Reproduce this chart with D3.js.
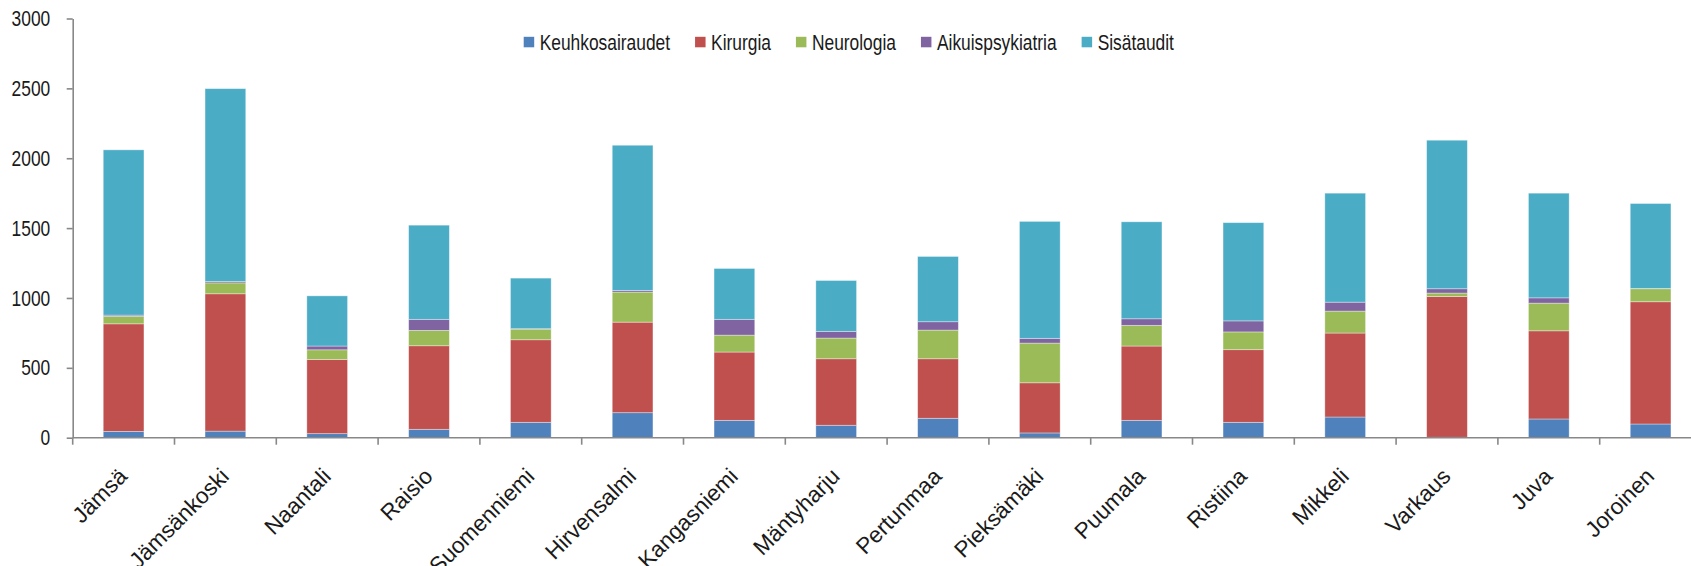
<!DOCTYPE html>
<html lang="fi">

<head>
    <meta charset="UTF-8">
    <style>
        body { margin: 0; background: #fff; }
        text { font-family: "Liberation Sans", Arial, sans-serif; fill: #1a1a1a; }
    </style>
</head>

<body>
    <script src="https://d3js.org/d3.v7.min.js"></script>
    <script>
        // kunnat ja sarjat
        var kunnat = ['Jämsä', 'Jämsänkoski', 'Naantali', 'Raisio', 'Suomenniemi', 'Hirvensalmi', 'Kangasniemi',
            'Mäntyharju', 'Pertunmaa', 'Pieksämäki', 'Puumala', 'Ristiina', 'Mikkeli', 'Varkaus', 'Juva', 'Joroinen']
        var sarjat = ['Keuhkosairaudet', 'Kirurgia', 'Neurologia', 'Aikuispsykiatria', 'Sisätaudit']
        var varit = ['#4f81bd', '#c0504d', '#9bbb59', '#8064a2', '#4bacc6']

        var keuhkosairaudet = [45, 47, 29, 60, 110, 179, 124, 89, 139, 34, 124, 110, 148, 3, 134, 98]
        var kirurgia = [770, 983, 531, 598, 591, 648, 489, 476, 426, 359, 532, 520, 601, 1008, 631, 875]
        var neurologia = [53, 78, 69, 110, 76, 215, 121, 148, 205, 284, 148, 127, 157, 24, 198, 93]
        var aikuispsykiatria = [9, 10, 27, 79, 3, 12, 113, 48, 60, 34, 47, 79, 64, 31, 38, 2]
        var sisataudit = [1183, 1380, 359, 674, 362, 1039, 364, 364, 467, 837, 694, 703, 780, 1063, 749, 608]

        var yTicks = [0, 500, 1000, 1500, 2000, 2500, 3000]

        var svgWidth = 1691, svgHeight = 566
        var narrow = 0.79   // kapea fontti

        var svg = d3.select('body').append('svg')
            .attr('width', svgWidth)
            .attr('height', svgHeight)

        var x = d3.scaleBand()
            .domain(kunnat)
            .range([72.7, 1701.5])
        var y = d3.scaleLinear()
            .domain([0, 3000])
            .range([437.7, 18.5])

        var rows = kunnat.map((k, i) => ({
            kunta: k,
            'Keuhkosairaudet': keuhkosairaudet[i],
            'Kirurgia': kirurgia[i],
            'Neurologia': neurologia[i],
            'Aikuispsykiatria': aikuispsykiatria[i],
            'Sisätaudit': sisataudit[i]
        }))
        var stacked = d3.stack().keys(sarjat)(rows)

        svg.selectAll('g.sarja')
            .data(stacked)
            .enter().append('g')
            .attr('class', 'sarja')
            .attr('fill', (d, i) => varit[i])
            .selectAll('rect')
            .data(d => d)
            .enter().append('rect')
            .attr('x', d => x(d.data.kunta) + x.bandwidth() * 0.3)
            .attr('width', x.bandwidth() * 0.4)
            .attr('y', d => y(d[1]))
            .attr('height', d => y(d[0]) - y(d[1]))
            .attr('stroke', 'rgba(255,255,255,0.45)')
            .attr('stroke-width', 0.8)

        // y-akseli
        var yAxis = svg.append('g')
            .attr('transform', 'translate(' + x.range()[0] + ',0)')
            .call(d3.axisLeft(y).tickValues(yTicks).tickFormat(d3.format('d')).tickSize(6).tickSizeOuter(0))
        yAxis.selectAll('path, line').attr('stroke', '#888').attr('stroke-width', 1.6)
        yAxis.selectAll('text')
            .attr('x', 0)
            .attr('transform', 'translate(-22.5,0) scale(' + narrow + ',1)')
            .style('font-size', '22px')
            .style('font-family', '"Liberation Sans", Arial, sans-serif')
            .attr('fill', '#1a1a1a')

        // x-akseli, jakoviivat kategorioiden rajoilla
        var xAxis = svg.append('g')
        xAxis.append('line')
            .attr('x1', x.range()[0]).attr('x2', x.range()[1])
            .attr('y1', y(0)).attr('y2', y(0))
            .attr('stroke', '#888').attr('stroke-width', 1.6)
        xAxis.selectAll('line.tick')
            .data(kunnat)
            .enter().append('line')
            .attr('class', 'tick')
            .attr('x1', d => x(d)).attr('x2', d => x(d))
            .attr('y1', y(0)).attr('y2', y(0) + 7)
            .attr('stroke', '#888').attr('stroke-width', 1.6)

        xAxis.selectAll('text')
            .data(kunnat)
            .enter().append('text')
            .attr('transform', d => 'translate(' + (x(d) + x.bandwidth() / 2 + 5) + ',' + (y(0) + 40) + ') rotate(-45)')
            .attr('text-anchor', 'end')
            .style('font-size', '22.5px')
            .text(d => d)

        // selite
        var legend = svg.append('g').attr('transform', 'translate(523.7,0)')
        var lx = 0
        sarjat.forEach((s, i) => {
            var item = legend.append('g').attr('transform', 'translate(' + lx + ',0)')
            item.append('rect')
                .attr('x', 0).attr('y', 36.8)
                .attr('width', 10.5).attr('height', 10.5)
                .attr('fill', varit[i])
            var t = item.append('text')
                .attr('transform', 'translate(16,50) scale(' + narrow + ',1)')
                .style('font-size', '22px')
                .text(s)
            lx += 16 + t.node().getComputedTextLength() * narrow + 25
        })
    </script>
</body>

</html>
